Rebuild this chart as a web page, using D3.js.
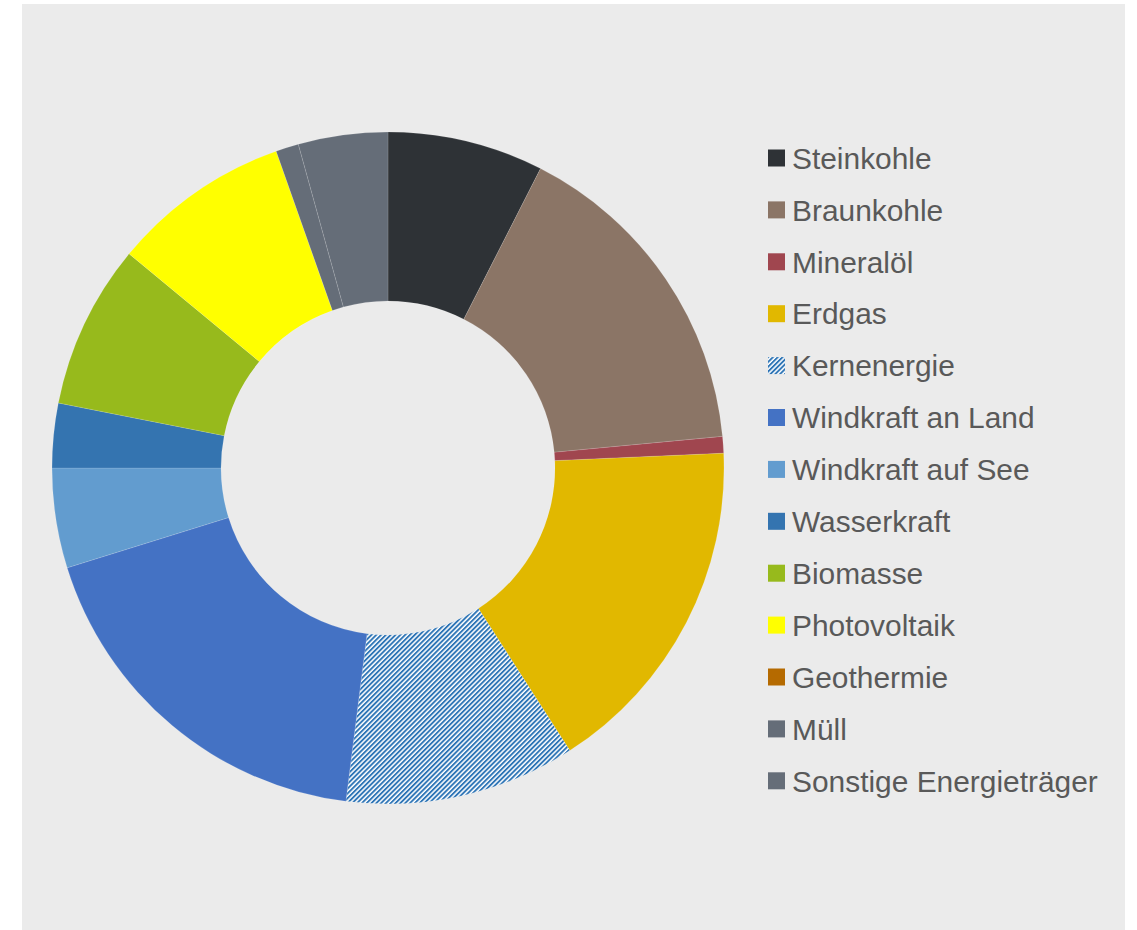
<!DOCTYPE html>
<html>
<head>
<meta charset="utf-8">
<script src="https://cdn.jsdelivr.net/npm/d3@7"></script>
<style>
  html, body { margin: 0; padding: 0; background: #ffffff; }
  svg { display: block; }
</style>
</head>
<body>
<svg id="chart" width="1137" height="930"></svg>
<script>
// Anteile der Energieträger (in Prozent)
const categories = [
  "Steinkohle", "Braunkohle", "Mineralöl", "Erdgas", "Kernenergie",
  "Windkraft an Land", "Windkraft auf See", "Wasserkraft", "Biomasse",
  "Photovoltaik", "Geothermie", "Müll", "Sonstige Energieträger"
];
const shares = [7.5, 16.0, 0.8, 16.6, 11.1, 18.2, 4.8, 3.1, 7.9, 8.6, 0.0, 1.1, 4.3];
const colors = [
  "#2e3236", "#8b7566", "#a0464f", "#e1b800", "url(#hatch)",
  "#4472c4", "#629ccf", "#3474b0", "#97ba1c", "#ffff00",
  "#b56a00", "#656d78", "#656d78"
];

const svg = d3.select("#chart");
const W = 1137, H = 930;

// Panel
svg.append("rect")
  .attr("x", 22).attr("y", 4)
  .attr("width", 1103).attr("height", H - 4)
  .attr("fill", "#ebebeb");

// Schraffur für Kernenergie
const defs = svg.append("defs");
const pat = defs.append("pattern")
  .attr("id", "hatch")
  .attr("patternUnits", "userSpaceOnUse")
  .attr("width", 3.4).attr("height", 3.4)
  .attr("patternTransform", "rotate(45)");
pat.append("rect").attr("width", 3.4).attr("height", 3.4).attr("fill", "#ffffff");
pat.append("rect").attr("x", 0).attr("y", 0).attr("width", 1.9).attr("height", 3.4).attr("fill", "#2e75b6");

// Ring
const cx = 388, cy = 468, rOuter = 336, rInner = 167;
const pie = d3.pie().sort(null).value(d => d.v);
const arc = d3.arc().innerRadius(rInner).outerRadius(rOuter);
const data = categories.map((c, i) => ({ name: c, v: shares[i], color: colors[i] }));

svg.append("g")
  .attr("transform", `translate(${cx},${cy})`)
  .selectAll("path")
  .data(pie(data))
  .join("path")
  .attr("d", arc)
  .attr("fill", d => d.data.color)
  .attr("stroke", "rgba(255,255,255,0.22)")
  .attr("stroke-width", d => d.data.v > 0 ? 0.6 : 0);

// Legende
const legY0 = 158, legStep = 51.9;
const leg = svg.append("g");
const rows = leg.selectAll("g")
  .data(data)
  .join("g")
  .attr("transform", (d, i) => `translate(768,${legY0 + i * legStep})`);
rows.append("rect")
  .attr("x", 0).attr("y", -8.5)
  .attr("width", 17).attr("height", 17)
  .attr("fill", d => d.color);
rows.append("text")
  .attr("x", 24).attr("y", 0)
  .attr("dy", "0.36em")
  .attr("font-family", "'Liberation Sans', Arial, sans-serif")
  .attr("font-size", 29.9)
  .attr("fill", "#595959")
  .text(d => d.name);
</script>
</body>
</html>
